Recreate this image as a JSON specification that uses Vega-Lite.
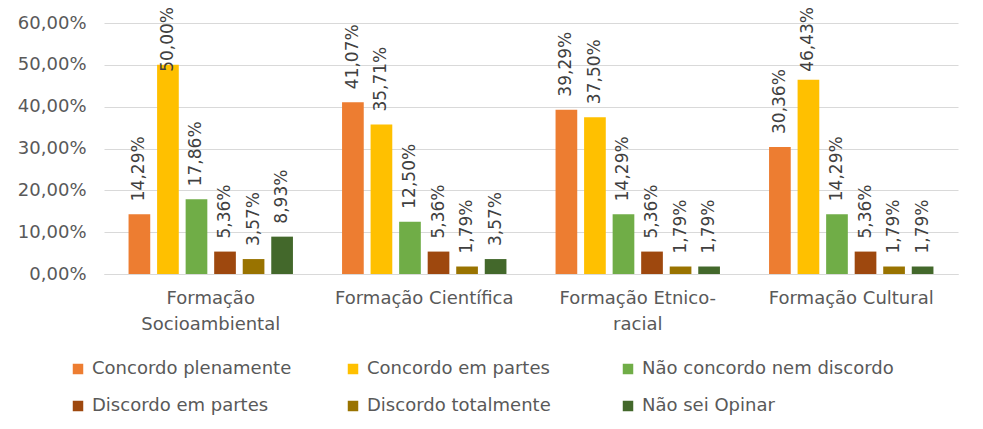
{
  "$schema": "https://vega.github.io/schema/vega-lite/v6.json",
  "width": 854,
  "height": 251,
  "autosize": "none",
  "padding": {"left": 104, "top": 23, "right": 25, "bottom": 155},
  "background": "white",
  "config": {
    "locale": {"number": {"decimal": ",", "thousands": ".", "grouping": [3], "currency": ["R$", ""]}},
    "view": {"stroke": null},
    "font": "DejaVu Sans"
  },
  "data": {
    "values": [
      {"categoria": "Formação Socioambiental", "resposta": "Concordo plenamente", "valor": 0.1429},
      {"categoria": "Formação Socioambiental", "resposta": "Concordo em partes", "valor": 0.5},
      {"categoria": "Formação Socioambiental", "resposta": "Não concordo nem discordo", "valor": 0.1786},
      {"categoria": "Formação Socioambiental", "resposta": "Discordo em partes", "valor": 0.0536},
      {"categoria": "Formação Socioambiental", "resposta": "Discordo totalmente", "valor": 0.0357},
      {"categoria": "Formação Socioambiental", "resposta": "Não sei Opinar", "valor": 0.0893},
      {"categoria": "Formação Científica", "resposta": "Concordo plenamente", "valor": 0.4107},
      {"categoria": "Formação Científica", "resposta": "Concordo em partes", "valor": 0.3571},
      {"categoria": "Formação Científica", "resposta": "Não concordo nem discordo", "valor": 0.125},
      {"categoria": "Formação Científica", "resposta": "Discordo em partes", "valor": 0.0536},
      {"categoria": "Formação Científica", "resposta": "Discordo totalmente", "valor": 0.0179},
      {"categoria": "Formação Científica", "resposta": "Não sei Opinar", "valor": 0.0357},
      {"categoria": "Formação Etnico-racial", "resposta": "Concordo plenamente", "valor": 0.3929},
      {"categoria": "Formação Etnico-racial", "resposta": "Concordo em partes", "valor": 0.375},
      {"categoria": "Formação Etnico-racial", "resposta": "Não concordo nem discordo", "valor": 0.1429},
      {"categoria": "Formação Etnico-racial", "resposta": "Discordo em partes", "valor": 0.0536},
      {"categoria": "Formação Etnico-racial", "resposta": "Discordo totalmente", "valor": 0.0179},
      {"categoria": "Formação Etnico-racial", "resposta": "Não sei Opinar", "valor": 0.0179},
      {"categoria": "Formação Cultural", "resposta": "Concordo plenamente", "valor": 0.3036},
      {"categoria": "Formação Cultural", "resposta": "Concordo em partes", "valor": 0.4643},
      {"categoria": "Formação Cultural", "resposta": "Não concordo nem discordo", "valor": 0.1429},
      {"categoria": "Formação Cultural", "resposta": "Discordo em partes", "valor": 0.0536},
      {"categoria": "Formação Cultural", "resposta": "Discordo totalmente", "valor": 0.0179},
      {"categoria": "Formação Cultural", "resposta": "Não sei Opinar", "valor": 0.0179}
    ]
  },
  "encoding": {
    "x": {
      "field": "categoria",
      "type": "nominal",
      "sort": ["Formação Socioambiental", "Formação Científica", "Formação Etnico-racial", "Formação Cultural"],
      "scale": {"paddingInner": 0.23, "paddingOuter": 0.115},
      "axis": {
        "title": null,
        "labelAngle": 0,
        "labelFontSize": 18,
        "labelColor": "#595959",
        "labelPadding": 15,
        "labelLimit": 400,
        "labelLineHeight": 26,
        "ticks": false,
        "domainColor": "#d9d9d9",
        "labelExpr": "datum.value == 'Formação Socioambiental' ? ['Formação', 'Socioambiental'] : datum.value == 'Formação Etnico-racial' ? ['Formação Etnico-', 'racial'] : datum.value"
      }
    },
    "xOffset": {
      "field": "resposta",
      "type": "nominal",
      "sort": ["Concordo plenamente", "Concordo em partes", "Não concordo nem discordo", "Discordo em partes", "Discordo totalmente", "Não sei Opinar"],
      "scale": {"paddingInner": 0.24, "paddingOuter": 0}
    }
  },
  "layer": [
    {
      "mark": {"type": "bar"},
      "encoding": {
        "y": {
          "field": "valor",
          "type": "quantitative",
          "scale": {"domain": [0, 0.6]},
          "axis": {
            "title": null,
            "format": ".2%",
            "values": [0, 0.1, 0.2, 0.3, 0.4, 0.5, 0.6],
            "gridColor": "#d9d9d9",
            "domain": false,
            "ticks": false,
            "labelFontSize": 18,
            "labelColor": "#595959",
            "labelPadding": 18
          }
        },
        "color": {
          "field": "resposta",
          "type": "nominal",
          "sort": ["Concordo plenamente", "Concordo em partes", "Não concordo nem discordo", "Discordo em partes", "Discordo totalmente", "Não sei Opinar"],
          "scale": {
            "domain": ["Concordo plenamente", "Concordo em partes", "Não concordo nem discordo", "Discordo em partes", "Discordo totalmente", "Não sei Opinar"],
            "range": ["#ED7D31", "#FFC000", "#70AD47", "#9E480E", "#997300", "#43682B"]
          },
          "legend": {
            "orient": "none",
            "legendX": -35,
            "legendY": 337,
            "direction": "horizontal",
            "columns": 3,
            "title": null,
            "symbolType": "square",
            "symbolSize": 110,
            "symbolStrokeWidth": 0,
            "labelFontSize": 18,
            "labelColor": "#595959",
            "labelLimit": 400,
            "labelOffset": 5,
            "gridAlign": "all",
            "columnPadding": 0,
            "rowPadding": 19
          }
        }
      }
    },
    {
      "transform": [{"filter": "datum.valor < 0.45"}],
      "mark": {"type": "text", "angle": 270, "align": "left", "baseline": "middle", "dx": 13, "fontSize": 17, "color": "#404040"},
      "encoding": {
        "y": {"field": "valor", "type": "quantitative"},
        "text": {"field": "valor", "type": "quantitative", "format": ".2%"}
      }
    },
    {
      "transform": [{"filter": "datum.valor >= 0.45"}],
      "mark": {"type": "text", "angle": 270, "align": "right", "baseline": "middle", "dx": 16, "fontSize": 17, "color": "#404040"},
      "encoding": {
        "y": {"datum": 0.6, "type": "quantitative"},
        "text": {"field": "valor", "type": "quantitative", "format": ".2%"}
      }
    }
  ]
}
